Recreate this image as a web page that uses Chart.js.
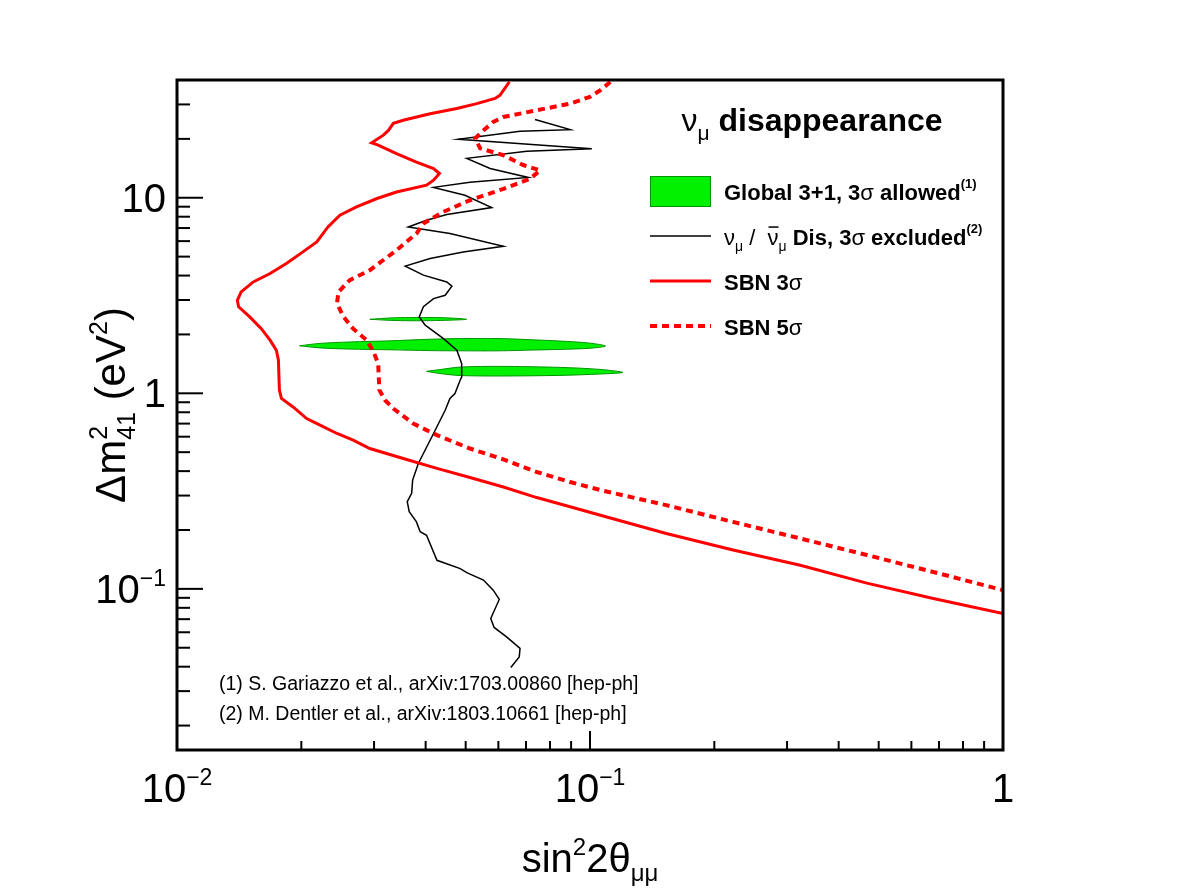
<!DOCTYPE html>
<html>
<head>
<meta charset="utf-8">
<script src="https://cdn.jsdelivr.net/npm/chart.js@4.4.1/dist/chart.umd.min.js"></script>
<style>
  html, body { margin: 0; padding: 0; background: #fff; }
  canvas { display: block; }
</style>
</head>
<body>
<canvas id="sensitivity" width="1182" height="894"></canvas>
<script>
// axis ranges (sin^2 2theta, dm^2 in eV^2)
const xRange = [0.01, 1];
const yRange = [0.015, 40];

// tick labels: [mantissa, exponent]
const xTickValues = [0.01, 0.1, 1];
const xTickLabels = [['10', '\u22122'], ['10', '\u22121'], ['1', '']];
const yTickValues = [0.1, 1, 10];
const yTickLabels = [['10', '\u22121'], ['1', ''], ['10', '']];

// SBN 3 sigma sensitivity [sin^2 2theta, dm^2]
const sbn3sigma = [
  [0.0638, 39.1], [0.0605, 33.4], [0.0589, 32.2], [0.0532, 30.3], [0.0476, 28.6], [0.0410, 26.9],
  [0.0353, 24.9], [0.0334, 24.0], [0.0325, 22.1], [0.0316, 20.9], [0.0296, 19.1], [0.0307, 18.6],
  [0.0340, 16.8], [0.0380, 15.2], [0.0418, 14.1], [0.0432, 13.3], [0.0418, 12.3], [0.0402, 11.6],
  [0.0340, 10.7], [0.0305, 9.91], [0.0272, 8.97], [0.0248, 8.14], [0.0232, 7.09], [0.0218, 5.94],
  [0.0199, 5.18], [0.0184, 4.61], [0.0168, 4.10], [0.0153, 3.71], [0.0143, 3.30], [0.0140, 2.99],
  [0.0141, 2.77], [0.0150, 2.46], [0.0160, 2.14], [0.0168, 1.87], [0.0174, 1.66], [0.0176, 1.48],
  [0.0177, 1.04], [0.0179, 0.941], [0.0191, 0.852], [0.0206, 0.743], [0.0222, 0.687], [0.0244, 0.623],
  [0.0267, 0.576], [0.0293, 0.522], [0.0353, 0.464], [0.0426, 0.413], [0.0512, 0.371], [0.0617, 0.332],
  [0.0743, 0.293], [0.0895, 0.263], [0.106, 0.238], [0.153, 0.192], [0.222, 0.158], [0.323, 0.132],
  [0.468, 0.107], [0.678, 0.0893], [1.0, 0.0748]
];

// SBN 5 sigma sensitivity
const sbn5sigma = [
  [0.112, 39.1], [0.106, 35.5], [0.100, 32.8], [0.0895, 30.3], [0.0743, 28.0], [0.0617, 25.9],
  [0.0583, 24.4], [0.0552, 22.1], [0.0527, 20.1], [0.0542, 17.9], [0.0617, 16.5], [0.0689, 14.7],
  [0.0757, 13.8], [0.0716, 12.5], [0.0617, 11.1], [0.0512, 9.71], [0.0441, 8.46], [0.0395, 7.38],
  [0.0380, 6.56], [0.0340, 5.39], [0.0293, 4.26], [0.0262, 3.79], [0.0246, 3.30], [0.0244, 2.88],
  [0.0253, 2.46], [0.0267, 2.14], [0.0288, 1.87], [0.0299, 1.63], [0.0307, 1.42], [0.0309, 1.04],
  [0.0319, 0.922], [0.0334, 0.836], [0.0373, 0.701], [0.0426, 0.611], [0.0512, 0.522], [0.0617, 0.459],
  [0.0743, 0.396], [0.0895, 0.352], [0.106, 0.320], [0.153, 0.268], [0.222, 0.220], [0.323, 0.181],
  [0.468, 0.149], [0.678, 0.122], [1.0, 0.0985]
];

// numu / numubar disappearance, 3 sigma excluded (Dentler et al.)
const numuDis = [
  [0.0736, 25.1], [0.0895, 22.3], [0.0677, 21.9], [0.0480, 19.9], [0.101, 17.8], [0.0703, 17.3],
  [0.0503, 15.9], [0.0573, 14.1], [0.0709, 12.7], [0.0512, 12.0], [0.0418, 11.3], [0.0498, 10.3],
  [0.0578, 8.91], [0.0450, 8.20], [0.0402, 7.67], [0.0363, 7.09], [0.0458, 6.56], [0.0617, 5.65],
  [0.0493, 5.28], [0.0410, 4.89], [0.0357, 4.47], [0.0395, 4.02], [0.0450, 3.71], [0.0463, 3.53],
  [0.0446, 3.17], [0.0418, 3.05], [0.0395, 2.77], [0.0386, 2.46], [0.0399, 2.23], [0.0441, 1.91],
  [0.0476, 1.66], [0.0489, 1.42], [0.0489, 1.21], [0.0485, 1.17], [0.0471, 0.998], [0.0458, 0.941],
  [0.0446, 0.819], [0.0418, 0.623], [0.0384, 0.438], [0.0372, 0.360], [0.0370, 0.308], [0.0361, 0.279],
  [0.0365, 0.248], [0.0380, 0.220], [0.0388, 0.196], [0.0402, 0.188], [0.0426, 0.140], [0.0485, 0.127],
  [0.0503, 0.121], [0.0552, 0.111], [0.0583, 0.0985], [0.0603, 0.0883], [0.0575, 0.0706], [0.0586, 0.0635],
  [0.0628, 0.0568], [0.0677, 0.0496], [0.0674, 0.0449], [0.0643, 0.0396]
];

// global 3+1 fit, 3 sigma allowed islands (outlines)
const island1 = [
  [0.0293, 2.39], [0.0330, 2.43], [0.0367, 2.44], [0.0425, 2.44], [0.0470, 2.42], [0.0503, 2.39],
  [0.0470, 2.37], [0.0425, 2.355], [0.0367, 2.35], [0.0330, 2.36], [0.0293, 2.39]
];
const island2 = [
  [0.0198, 1.75], [0.0222, 1.80], [0.0262, 1.83], [0.0328, 1.855], [0.0410, 1.89], [0.0485, 1.905],
  [0.0606, 1.905], [0.0716, 1.88], [0.0846, 1.85], [0.100, 1.805], [0.109, 1.745], [0.100, 1.70],
  [0.0846, 1.677], [0.0716, 1.663], [0.0606, 1.649], [0.0485, 1.649], [0.0410, 1.653], [0.0328, 1.669],
  [0.0262, 1.683], [0.0222, 1.707], [0.0198, 1.75]
];
const island3 = [
  [0.0402, 1.295], [0.0433, 1.322], [0.0485, 1.362], [0.0606, 1.373], [0.0846, 1.357], [0.1057, 1.325],
  [0.120, 1.279], [0.1057, 1.255], [0.0846, 1.235], [0.0606, 1.226], [0.0485, 1.233], [0.0433, 1.262],
  [0.0402, 1.295]
];

const FAMILY = '"Liberation Sans", Arial, Helvetica, sans-serif';
const GREEN = 'rgb(0, 240, 0)';
const GREEN_EDGE = 'rgb(0, 150, 0)';

const pts = arr => arr.map(p => ({ x: p[0], y: p[1] }));
const font = (s, w) => (w || 'normal') + ' ' + s + 'px ' + FAMILY;
const run = (t, s, w, dy, opt) => Object.assign({ t: t, s: s, w: w || 'normal', dy: dy || 0 }, opt);

// draw a row of text pieces (sub/superscripts)
function drawRuns(ctx, x, y, runs, align) {
  let total = 0;
  runs.forEach(r => {
    ctx.font = font(r.s, r.w);
    if (!r.stack) total += ctx.measureText(r.t).width;
  });
  let cx = align === 'center' ? x - total / 2 : align === 'right' ? x - total : x;
  ctx.textAlign = 'left';
  ctx.textBaseline = 'alphabetic';
  runs.forEach(r => {
    ctx.font = font(r.s, r.w);
    const w = ctx.measureText(r.t).width;
    ctx.fillText(r.t, cx, y + r.dy);
    if (r.bar) ctx.fillRect(cx + 1, y + r.dy - r.s * 0.85, w - 1, 1.5);
    if (!r.stack) cx += w;
  });
}

function logTicks(min, max) {
  const out = [];
  for (let e = Math.floor(Math.log10(min)); e <= Math.ceil(Math.log10(max)); e++) {
    for (let k = 1; k <= 9; k++) {
      const v = Number((k * Math.pow(10, e)).toPrecision(6));
      if (v >= min && v <= max) out.push({ v: v, major: k === 1 });
    }
  }
  return out;
}

const decorations = {
  id: 'decorations',
  afterDraw(chart) {
    const { ctx, chartArea: a, scales: { x, y } } = chart;
    ctx.save();
    ctx.fillStyle = '#000';
    ctx.strokeStyle = '#000';

    // ticks inside the frame, bottom and left only
    ctx.lineWidth = 2;
    logTicks(xRange[0], xRange[1]).forEach(t => {
      const px = x.getPixelForValue(t.v);
      ctx.beginPath();
      ctx.moveTo(px, a.bottom);
      ctx.lineTo(px, a.bottom - (t.major ? 19 : 9));
      ctx.stroke();
    });
    logTicks(yRange[0], yRange[1]).forEach(t => {
      const py = y.getPixelForValue(t.v);
      ctx.beginPath();
      ctx.moveTo(a.left, py);
      ctx.lineTo(a.left + (t.major ? 26 : 13), py);
      ctx.stroke();
    });
    ctx.lineWidth = 3;
    ctx.strokeRect(a.left, a.top, a.right - a.left, a.bottom - a.top);

    // tick labels
    xTickValues.forEach((v, i) => {
      const l = xTickLabels[i];
      drawRuns(ctx, x.getPixelForValue(v), a.bottom + 52,
        [run(l[0], 40), run(l[1], 23, 'normal', -17)], 'center');
    });
    yTickValues.forEach((v, i) => {
      const l = yTickLabels[i];
      drawRuns(ctx, a.left - 11, y.getPixelForValue(v) + 14,
        [run(l[0], 40), run(l[1], 23, 'normal', -17)], 'right');
    });

    // axis titles
    drawRuns(ctx, (a.left + a.right) / 2, 872, [
      run('sin', 40), run('2', 24, 'normal', -17), run('2\u03b8', 40), run('\u03bc\u03bc', 24, 'normal', 9)
    ], 'center');
    ctx.save();
    ctx.translate(125, 405);
    ctx.rotate(-Math.PI / 2);
    drawRuns(ctx, 0, 0, [
      run('\u0394m', 42), run('2', 25, 'normal', -18, { stack: true }), run('41', 25, 'normal', 10),
      run(' (eV', 42), run('2', 25, 'normal', -18), run(')', 42)
    ], 'center');
    ctx.restore();

    // legend
    drawRuns(ctx, 812, 131, [
      run('\u03bd', 32), run('\u03bc', 21, 'normal', 9), run(' disappearance', 32, 'bold')
    ], 'center');

    const ds = chart.data.datasets;
    ctx.fillStyle = ds[3].backgroundColor;
    ctx.fillRect(650, 176, 61, 31);
    ctx.strokeStyle = ds[3].borderColor;
    ctx.lineWidth = 1;
    ctx.strokeRect(650.5, 176.5, 60, 30);

    [[2, 236], [0, 281], [1, 326]].forEach(([i, ly]) => {
      ctx.strokeStyle = ds[i].borderColor;
      ctx.lineWidth = ds[i].borderWidth;
      ctx.setLineDash(ds[i].borderDash || []);
      ctx.beginPath();
      ctx.moveTo(650, ly);
      ctx.lineTo(711, ly);
      ctx.stroke();
    });
    ctx.setLineDash([]);

    ctx.fillStyle = '#000';
    drawRuns(ctx, 724, 200, [
      run('Global 3+1, 3', 22, 'bold'), run('\u03c3', 22), run(' allowed', 22, 'bold'), run('(1)', 13, 'bold', -12)
    ]);
    drawRuns(ctx, 724, 245, [
      run('\u03bd', 22), run('\u03bc', 14, 'normal', 6), run(' /  ', 22),
      run('\u03bd', 22, 'normal', 0, { bar: true }), run('\u03bc', 14, 'normal', 6),
      run(' Dis, 3', 22, 'bold'), run('\u03c3', 22), run(' excluded', 22, 'bold'), run('(2)', 13, 'bold', -12)
    ]);
    drawRuns(ctx, 724, 290, [run('SBN 3', 22, 'bold'), run('\u03c3', 22)]);
    drawRuns(ctx, 724, 335, [run('SBN 5', 22, 'bold'), run('\u03c3', 22)]);

    // references
    drawRuns(ctx, 219, 690, [run('(1) S. Gariazzo et al., arXiv:1703.00860 [hep-ph]', 19.5)]);
    drawRuns(ctx, 219, 720, [run('(2) M. Dentler et al., arXiv:1803.10661 [hep-ph]', 19.5)]);
    ctx.restore();
  }
};

const islandStyle = {
  showLine: true,
  fill: 'shape',
  backgroundColor: GREEN,
  borderColor: GREEN_EDGE,
  borderWidth: 1,
  pointRadius: 0,
  tension: 0.3
};

new Chart(document.getElementById('sensitivity').getContext('2d'), {
  type: 'scatter',
  data: {
    datasets: [
      { label: 'SBN 3\u03c3', data: pts(sbn3sigma), showLine: true, borderColor: '#ff0000', borderWidth: 3, pointRadius: 0 },
      { label: 'SBN 5\u03c3', data: pts(sbn5sigma), showLine: true, borderColor: '#ff0000', borderWidth: 4, borderDash: [7, 5], pointRadius: 0 },
      { label: '\u03bd\u03bc / anti-\u03bd\u03bc Dis, 3\u03c3 excluded', data: pts(numuDis), showLine: true, borderColor: '#000', borderWidth: 1.5, pointRadius: 0 },
      Object.assign({ label: 'Global 3+1, 3\u03c3 allowed', data: pts(island1) }, islandStyle),
      Object.assign({ label: 'Global 3+1 (2)', data: pts(island2) }, islandStyle),
      Object.assign({ label: 'Global 3+1 (3)', data: pts(island3) }, islandStyle)
    ]
  },
  options: {
    responsive: false,
    animation: false,
    events: [],
    layout: { padding: { left: 177, right: 179, top: 80, bottom: 144 } },
    plugins: { legend: { display: false }, tooltip: { enabled: false } },
    scales: {
      x: { type: 'logarithmic', min: xRange[0], max: xRange[1], display: false },
      y: { type: 'logarithmic', min: yRange[0], max: yRange[1], display: false }
    }
  },
  plugins: [decorations]
});
</script>
</body>
</html>
